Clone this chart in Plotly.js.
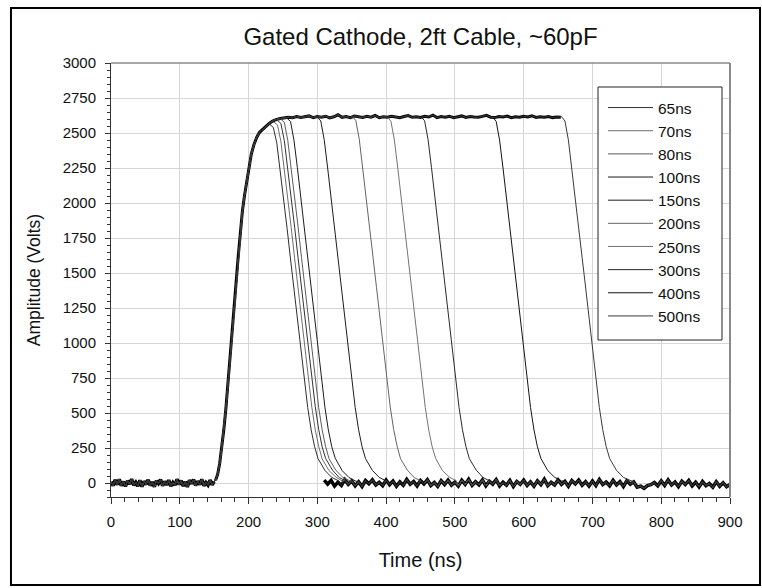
<!DOCTYPE html>
<html>
<head>
<meta charset="utf-8">
<script src="https://cdn.plot.ly/plotly-3.0.1.min.js"></script>
<style>html,body{margin:0;padding:0;background:#fff;}#chart{width:762px;height:588px;}</style>
</head>
<body>
<div id="chart"></div>
<script>
// ---- Data (time in ns, amplitude in volts) ----
const legendNames = ['65ns','70ns','80ns','100ns','150ns','200ns','250ns','300ns','400ns','500ns'];

// common pre-pulse baseline (noisy)
const baseT = [0,3,6,9,12,15,18,21,24,27,30,33,36,39,42,45,48,51,54,57,60,63,66,69,72,75,78,81,84,87,90,93,96,99,102,105,108,111,114,117,120,123,126,129,132,135,138,141,144,147,150];
const baseV = [8,-18,22,-12,26,-20,10,-24,16,-8,28,-15,5,-22,19,-26,12,-10,23,-18,7,-27,15,-4,25,-19,11,-14,21,-23,4,-16,27,-11,17,-22,9,-28,20,-6,24,-17,13,-12,26,-20,3,-15,21,-13,10];

// common rising edge
const riseT = [152,155,158,161,164,167,170,173,176,179,182,185,188,191,194,197,200,204,208,212,216,220,225,230,235];
const riseV = [20,60,140,250,380,530,700,880,1070,1260,1440,1620,1800,1940,2050,2150,2240,2350,2420,2470,2505,2525,2550,2568,2585];

// common flat top
const platT = [240,246,252,258,264,270,276,282,288,294,300,306,312,318,324,330,336,342,348,354,360,366,372,378,384,390,396,402,408,414,420,426,432,438,444,450,456,462,468,474,480,486,492,498,504,510,516,522,528,534,540,546,552,558,564,570,576,582,588,594,600,606,612,618,624,630,636,642,648,654];
const platV = [2596,2603,2606,2612,2609,2618,2611,2616,2622,2610,2617,2613,2620,2608,2616,2630,2612,2618,2609,2621,2614,2611,2619,2613,2625,2610,2616,2612,2620,2615,2609,2618,2624,2612,2616,2611,2619,2614,2628,2610,2617,2613,2620,2609,2616,2622,2611,2618,2614,2612,2619,2626,2613,2610,2617,2615,2621,2609,2616,2612,2619,2614,2623,2611,2616,2613,2618,2610,2615,2612];

// common post-pulse baseline (noisy)
const tailT = [300,305,310,315,320,325,330,335,340,345,350,355,360,365,370,375,380,385,390,395,400,405,410,415,420,425,430,435,440,445,450,455,460,465,470,475,480,485,490,495,500,505,510,515,520,525,530,535,540,545,550,555,560,565,570,575,580,585,590,595,600,605,610,615,620,625,630,635,640,645,650,655,660,665,670,675,680,685,690,695,700,705,710,715,720,725,730,735,740,745,750,755,760,765,770,775,780,785,790,795,800,805,810,815,820,825,830,835,840,845,850,855,860,865,870,875,880,885,890,895,900];
const tailV = [12,-15,20,-8,18,-22,6,-17,24,-10,15,-20,9,-25,17,-6,22,-14,5,-19,21,-12,14,-23,8,-16,25,-9,11,-21,18,-7,23,-18,4,-24,16,-11,20,-15,7,-22,19,-10,26,-17,9,-13,22,-20,13,-8,24,-21,6,-16,18,-25,11,-9,20,-18,8,-23,15,-12,27,-19,5,-14,22,-10,12,-24,17,-7,21,-16,9,-22,14,-19,25,-11,6,-20,19,-13,10,-25,16,-9,8,-30,-22,-38,-18,-12,4,-20,15,-17,22,-14,7,-26,13,-11,18,-21,5,-28,11,-19,-4,-30,9,-23,2,-27,-10];

// falling edges, one per gate width
const fallT_65  = [231,236,241,246,251,256,261,266,271,276,281,286,291,296,301,311,321,331];
const fallV_65  = [2560,2540,2430,2240,2030,1820,1600,1390,1170,950,735,540,380,260,175,90,40,15];
const fallT_70  = [237,242,247,252,257,262,267,272,277,282,287,292,297,302,307,317,327,337];
const fallV_70  = [2576,2558,2440,2245,2035,1825,1605,1395,1175,955,738,540,378,262,172,88,42,12];
const fallT_x   = [242,247,252,257,262,267,272,277,282,287,292,297,302,307,312,322,332,342];
const fallV_x   = [2590,2568,2445,2248,2038,1828,1608,1398,1178,958,740,545,382,258,176,92,38,14];
const fallT_80  = [247,252,257,262,267,272,277,282,287,292,297,302,307,312,317,327,337,347];
const fallV_80  = [2598,2576,2448,2250,2040,1830,1610,1400,1180,960,742,538,380,261,174,90,41,16];
const fallT_100 = [256,261,266,271,276,281,286,291,296,301,306,311,316,321,326,336,346,356];
const fallV_100 = [2605,2582,2450,2252,2042,1832,1612,1402,1182,962,740,542,379,259,177,89,39,13];
const fallT_150 = [300,305,310,315,320,325,330,335,340,345,350,355,360,365,370,380,390,400];
const fallV_150 = [2615,2586,2452,2250,2040,1830,1610,1400,1180,960,740,540,380,260,175,90,40,15];
const fallT_200 = [351,356,361,366,371,376,381,386,391,396,401,406,411,416,421,431,441,451];
const fallV_200 = [2618,2588,2455,2254,2044,1832,1612,1398,1178,958,738,542,382,262,173,91,38,14];
const fallT_250 = [402,407,412,417,422,427,432,437,442,447,452,457,462,467,472,482,492,502];
const fallV_250 = [2614,2584,2450,2248,2038,1828,1608,1402,1182,962,742,538,378,258,176,88,42,16];
const fallT_300 = [451,456,461,466,471,476,481,486,491,496,501,506,511,516,521,531,541,551];
const fallV_300 = [2616,2587,2453,2252,2041,1831,1611,1399,1179,959,739,541,381,261,174,92,39,13];
const fallT_400 = [555,560,565,570,575,580,585,590,595,600,605,610,615,620,625,635,645,655];
const fallV_400 = [2613,2583,2449,2249,2039,1829,1609,1401,1181,961,741,539,379,259,176,89,41,15];
const fallT_500 = [655,660,665,670,675,680,685,690,695,700,705,710,715,720,725,735,745,755];
const fallV_500 = [2617,2586,2451,2251,2040,1830,1610,1400,1180,960,740,540,380,260,175,90,40,15];

// ---- assembly ----
function buildSeries(ft, fv) {
  const s = ft[0], e = ft[ft.length - 1];
  const x = [], y = [];
  baseT.forEach((t, i) => { x.push(t); y.push(baseV[i]); });
  riseT.forEach((t, i) => { if (t < s) { x.push(t); y.push(riseV[i]); } });
  platT.forEach((t, i) => { if (t < s) { x.push(t); y.push(platV[i]); } });
  ft.forEach((t, i) => { x.push(t); y.push(fv[i]); });
  tailT.forEach((t, i) => { if (t > e) { x.push(t); y.push(tailV[i]); } });
  return {x, y};
}

const series = [
  {name: legendNames[0], ft: fallT_65,  fv: fallV_65,  color: '#2e2e2e', show: true},
  {name: legendNames[1], ft: fallT_70,  fv: fallV_70,  color: '#6e6e6e', show: true},
  {name: legendNames[2], ft: fallT_80,  fv: fallV_80,  color: '#5c5c5c', show: true},
  {name: legendNames[3], ft: fallT_100, fv: fallV_100, color: '#1c1c1c', show: true},
  {name: legendNames[4], ft: fallT_150, fv: fallV_150, color: '#1c1c1c', show: true},
  {name: legendNames[5], ft: fallT_200, fv: fallV_200, color: '#646464', show: true},
  {name: legendNames[6], ft: fallT_250, fv: fallV_250, color: '#747474', show: true},
  {name: legendNames[7], ft: fallT_300, fv: fallV_300, color: '#2a2a2a', show: true},
  {name: legendNames[8], ft: fallT_400, fv: fallV_400, color: '#141414', show: true},
  {name: legendNames[9], ft: fallT_500, fv: fallV_500, color: '#3a3a3a', show: true},
  {name: 'extra', ft: fallT_x, fv: fallV_x, color: '#333333', show: false}
];

const traces = [];
// overlapping common parts drawn thicker (many traces stacked on top of each other)
(function () {
  traces.push({x: baseT, y: baseV, type: 'scatter', mode: 'lines', showlegend: false, hoverinfo: 'skip',
    line: {color: '#000', width: 3.5}});
  const x = [], y = [];
  riseT.forEach((t, i) => { x.push(t); y.push(riseV[i]); });
  platT.forEach((t, i) => { x.push(t); y.push(platV[i]); });
  traces.push({x, y, type: 'scatter', mode: 'lines', showlegend: false, hoverinfo: 'skip',
    line: {color: '#000', width: 3}});
  const tx = [], ty = [];
  tailT.forEach((t, i) => { if (t >= 310) { tx.push(t); ty.push(tailV[i]); } });
  traces.push({x: tx, y: ty, type: 'scatter', mode: 'lines', showlegend: false, hoverinfo: 'skip',
    line: {color: '#000', width: 3.5}});
})();

series.forEach(s => {
  const d = buildSeries(s.ft, s.fv);
  traces.push({x: d.x, y: d.y, type: 'scatter', mode: 'lines', name: s.name,
    showlegend: s.show, line: {color: s.color, width: 1}});
});

const FONT = 'Liberation Sans, Arial, Helvetica, sans-serif';
const layout = {
  width: 762, height: 588,
  margin: {l: 111, r: 32, t: 63, b: 91, pad: 0},
  paper_bgcolor: '#ffffff', plot_bgcolor: '#ffffff',
  font: {family: FONT, size: 15, color: '#111'},
  title: {text: 'Gated Cathode, 2ft Cable, ~60pF', font: {family: FONT, size: 24, color: '#111'},
    x: 0.5, xref: 'paper', xanchor: 'center', y: 1 - 37 / 588, yref: 'container', yanchor: 'middle'},
  xaxis: {range: [0, 900], tick0: 0, dtick: 100, ticks: 'outside', ticklen: 6, tickwidth: 1, tickcolor: '#333',
    showline: true, linecolor: '#333', linewidth: 1, showgrid: true, gridcolor: '#d6d6d6', gridwidth: 1,
    zeroline: false, tickfont: {size: 15, color: '#111'}, ticklabelstandoff: 5,
    minor: {dtick: 20, ticks: 'outside', ticklen: 4, tickcolor: '#333', showgrid: false},
    title: {text: 'Time (ns)', font: {size: 20, color: '#111'}, standoff: 23}},
  yaxis: {range: [-100, 3000], tick0: 0, dtick: 250, ticks: 'outside', ticklen: 5, tickwidth: 1, tickcolor: '#333',
    showline: true, linecolor: '#333', linewidth: 1, showgrid: true, gridcolor: '#d6d6d6', gridwidth: 1,
    zeroline: false, tickfont: {size: 15, color: '#111'}, ticklabelstandoff: 6,
    minor: {dtick: 50, ticks: 'outside', ticklen: 3, tickcolor: '#333', showgrid: false},
    title: {text: 'Amplitude (Volts)', font: {size: 17.5, color: '#111'}, standoff: 17}},
  legend: {x: (603 - 111) / 619, y: (497 - 91) / 434, xanchor: 'left', yanchor: 'top', bgcolor: 'rgba(255,255,255,0)',
    borderwidth: 0, font: {size: 15.5, color: '#111'}, itemwidth: 45, traceorder: 'normal'},
  shapes: [
    {type: 'line', xref: 'paper', yref: 'paper', x0: 0, x1: 1, y0: 1, y1: 1, line: {color: '#8a8a8a', width: 1.5}},
    {type: 'line', xref: 'paper', yref: 'paper', x0: 1, x1: 1, y0: 0, y1: 1, line: {color: '#8a8a8a', width: 2}},
    {type: 'rect', xref: 'paper', yref: 'paper', x0: (598 - 111) / 619, x1: (722 - 111) / 619,
      y0: (497 - 340) / 434, y1: (497 - 87) / 434, fillcolor: '#ffffff', line: {color: '#222', width: 1}, layer: 'above'},
    {type: 'rect', xref: 'paper', yref: 'paper', x0: -0.1616, x1: 1.0485, y0: -0.2028, y1: 1.1267,
      line: {color: '#000', width: 2}}
  ],
  showlegend: true
};

Plotly.newPlot('chart', traces, layout, {displayModeBar: false, staticPlot: true});
</script>
</body>
</html>
